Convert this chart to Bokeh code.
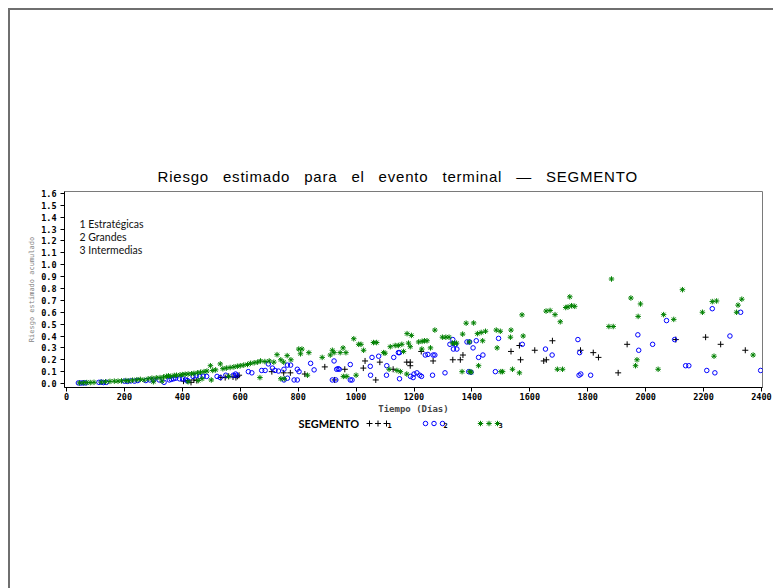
from bokeh.plotting import figure
from bokeh.models import Range1d, Label, FixedTicker, ColumnDataSource
from bokeh.layouts import column
from bokeh.core.properties import value
from bokeh.embed import file_html
from bokeh.resources import INLINE

# ---------------- data ----------------
titulo = "Riesgo estimado para el evento terminal \u2014 SEGMENTO"
eje_x = "Tiempo (D\u00edas)"
eje_y = "Riesgo estimado acumulado"
notas = ["1 Estrat\u00e9gicas", "2 Grandes", "3 Intermedias"]
leyenda_titulo = "SEGMENTO"
segmentos = ["1", "2", "3"]

x_ticks = [0, 200, 400, 600, 800, 1000, 1200, 1400, 1600, 1800, 2000, 2200, 2400]
x_tick_labels = ["0", "200", "400", "600", "800", "1000", "1200", "1400", "1600", "1800", "2000", "2200", "2400"]
y_ticks = [0.0, 0.1, 0.2, 0.3, 0.4, 0.5, 0.6, 0.7, 0.8, 0.9, 1.0, 1.1, 1.2, 1.3, 1.4, 1.5, 1.6]
y_tick_labels = ["0.0", "0.1", "0.2", "0.3", "0.4", "0.5", "0.6", "0.7", "0.8", "0.9", "1.0", "1.1", "1.2", "1.3", "1.4", "1.5", "1.6"]

# Segment 1 (Estrategicas)
seg1_dias = [404, 418, 430, 440, 450, 533, 548, 560, 575, 585, 590, 596, 709, 750, 773, 823, 892, 926,
             961, 1025, 1031, 1068, 1082, 1128, 1175, 1187, 1187, 1225, 1266, 1334, 1360, 1369, 1535,
             1564, 1568, 1617, 1648, 1657, 1678, 1775, 1819, 1837, 1905, 1936, 2104, 2207, 2259, 2344]
seg1_riesgo = [0.02, 0.025, 0.01, 0.03, 0.025, 0.05, 0.05, 0.06, 0.055, 0.05, 0.06, 0.07, 0.10, 0.09, 0.09,
               0.08, 0.14, 0.03, 0.12, 0.13, 0.19, 0.03, 0.18, 0.12, 0.18, 0.15, 0.18, 0.27, 0.19, 0.20,
               0.20, 0.24, 0.27, 0.32, 0.20, 0.28, 0.19, 0.20, 0.36, 0.28, 0.26, 0.22, 0.09, 0.33, 0.37,
               0.39, 0.33, 0.28]

# Segment 2 (Grandes)
seg2_dias = [41, 50, 58, 66, 112, 120, 128, 138, 200, 210, 222, 235, 246, 274, 288, 300, 320, 337, 355,
             362, 370, 377, 390, 401, 412, 418, 437, 448, 460, 472, 484, 520, 531, 550, 576, 584, 588,
             628, 640, 674, 686, 697, 711, 720, 732, 751, 763, 774, 751, 763, 786, 797, 797, 803, 843,
             855, 918, 924, 930, 933, 938, 942, 980, 980, 986, 1049, 1050, 1055, 1078, 1105, 1106, 1130,
             1146, 1150, 1150, 1197, 1188, 1200, 1210, 1220, 1226, 1239, 1248, 1264, 1266, 1272, 1307,
             1324, 1334, 1336, 1343, 1348, 1383, 1389, 1392, 1397, 1404, 1415, 1423, 1438, 1481, 1492,
             1574, 1654, 1677, 1766, 1772, 1770, 1776, 1810, 1973, 1976, 2024, 2072, 2100, 2138, 2149,
             2211, 2230, 2239, 2291, 2328, 2397]
seg2_riesgo = [0.005, 0.004, 0.006, 0.005, 0.01, 0.012, 0.008, 0.01, 0.02, 0.018, 0.022, 0.02, 0.025,
               0.025, 0.03, 0.028, 0.03, 0.01, 0.03, 0.035, 0.04, 0.045, 0.04, 0.04, 0.03, 0.025, 0.06,
               0.065, 0.06, 0.062, 0.06, 0.06, 0.05, 0.07, 0.07, 0.08, 0.07, 0.10, 0.09, 0.11, 0.11,
               0.165, 0.13, 0.11, 0.105, 0.12, 0.155, 0.155, 0.03, 0.045, 0.03, 0.03, 0.12, 0.10, 0.17,
               0.115, 0.03, 0.19, 0.03, 0.12, 0.125, 0.12, 0.16, 0.03, 0.03, 0.145, 0.07, 0.22, 0.23,
               0.07, 0.15, 0.22, 0.26, 0.26, 0.04, 0.05, 0.06, 0.08, 0.09, 0.07, 0.06, 0.24, 0.245, 0.07,
               0.24, 0.24, 0.09, 0.33, 0.37, 0.29, 0.33, 0.29, 0.35, 0.10, 0.35, 0.095, 0.30, 0.36, 0.22,
               0.24, 0.10, 0.38, 0.33, 0.29, 0.24, 0.37, 0.26, 0.07, 0.08, 0.07, 0.41, 0.28, 0.33, 0.53,
               0.37, 0.15, 0.15, 0.11, 0.63, 0.09, 0.40, 0.60, 0.11]

# Segment 3 (Intermedias)
seg3_dias = [45, 58, 70, 82, 95, 120, 135, 150, 165, 178, 190, 205, 215, 228, 243, 255, 268, 282, 295,
             310, 323, 335, 345, 352, 360, 372, 380, 392, 400, 410, 420, 432, 440, 452, 463, 475, 485,
             497, 505, 515, 531, 540, 552, 565, 578, 590, 600, 612, 625, 635, 648, 660, 670, 685, 700,
             716, 727, 740, 750, 762, 775, 300, 330, 420, 455, 468, 500, 560, 668, 740, 752, 832,
             802, 813, 808, 837, 883, 911, 918, 924, 945, 955, 965, 992, 1009, 1017, 1026, 1060, 1071,
             1095, 1100, 1118, 1135, 1146, 1158, 1164, 1176, 1191, 1181, 1187, 1216, 1228, 1236, 1245,
             1227, 1257, 1272, 1298, 1310, 1321, 1333, 1340, 1347, 1368, 1380, 1406, 1391, 1419, 1432,
             1447, 1437, 1423, 1393, 1397, 1366, 1484, 1498, 1487, 1535, 1533, 1577, 1573, 1500, 1506,
             1540, 1564, 1656, 1670, 1687, 1705, 1695, 1713, 1724, 1732, 1738, 1744, 1755, 1882, 1873,
             1888, 1949, 1982, 1974, 1970, 1965, 2043, 2062, 2097, 2127, 2196, 2230, 2245, 2236, 2314,
             2319, 2332, 2371, 1141, 1153, 1175, 1114, 956, 968, 1000]
seg3_riesgo = [0.005, 0.006, 0.008, 0.008, 0.01, 0.012, 0.015, 0.018, 0.02, 0.02, 0.022, 0.025, 0.022,
               0.028, 0.032, 0.035, 0.03, 0.04, 0.045, 0.048, 0.05, 0.055, 0.06, 0.065, 0.06, 0.068, 0.07,
               0.072, 0.075, 0.078, 0.08, 0.082, 0.085, 0.09, 0.095, 0.10, 0.105, 0.15, 0.11, 0.115,
               0.165, 0.125, 0.13, 0.135, 0.14, 0.145, 0.15, 0.155, 0.16, 0.17, 0.175, 0.18, 0.19, 0.185,
               0.19, 0.18, 0.243, 0.20, 0.18, 0.235, 0.20, 0.015, 0.02, 0.015, 0.025, 0.04, 0.03, 0.06,
               0.05, 0.04, 0.04, 0.07,
               0.29, 0.29, 0.25, 0.26, 0.22, 0.24, 0.28, 0.26, 0.26, 0.30, 0.26, 0.377, 0.33, 0.33, 0.28,
               0.345, 0.345, 0.26, 0.255, 0.31, 0.32, 0.32, 0.33, 0.27, 0.42, 0.405, 0.34, 0.31, 0.35,
               0.355, 0.36, 0.36, 0.29, 0.30, 0.45, 0.39, 0.39, 0.39, 0.34, 0.34, 0.34, 0.416, 0.508,
               0.51, 0.35, 0.42, 0.43, 0.44, 0.36, 0.15, 0.10, 0.095, 0.10, 0.45, 0.44, 0.30, 0.45, 0.39,
               0.40, 0.578, 0.10, 0.10, 0.12, 0.09, 0.61, 0.615, 0.58, 0.52, 0.12, 0.12, 0.64, 0.645,
               0.73, 0.655, 0.65, 0.88, 0.48, 0.48, 0.72, 0.67, 0.565, 0.20, 0.15, 0.12, 0.58, 0.54,
               0.79, 0.60, 0.69, 0.695, 0.23, 0.60, 0.66, 0.71, 0.24, 0.11, 0.10, 0.08, 0.12, 0.06,
               0.06, 0.07]

# ---------------- layout (page pixels) ----------------
FRAME_L, FRAME_R, FRAME_T, FRAME_B = 64, 762, 191, 388
PX_X0, PX_PER_DAY = 66.0, 695.0 / 2400.0
PX_Y0, PX_PER_UNIT = 384.0, 191.0 / 1.6
CANVAS_L, CANVAS_T = 10, 10
W = 763
TOP_SPLIT = 186      # page y where the main plot canvas starts
SPLIT = 416          # page y where the legend strip starts
PAGE_B = 588


def dx(px):
    return (px - PX_X0) / PX_PER_DAY


def dy(py):
    return (PX_Y0 - py) / PX_PER_UNIT


MARK = dict(cross=dict(marker="cross", size=6, line_color="black", line_width=1),
            circle=dict(marker="circle", size=4.5, line_color="#0000ff", fill_color=None, line_width=1),
            aster=dict(marker="asterisk", size=5.5, line_color="#008000", line_width=1))


def strip(y0, y1):
    f = figure(width=W, height=y1 - y0, output_backend="svg", toolbar_location=None,
               x_range=Range1d(FRAME_L, FRAME_R), y_range=Range1d(y1, y0),
               x_axis_location=None, y_axis_location=None, min_border=0, title=None)
    f.xgrid.visible = False
    f.ygrid.visible = False
    f.outline_line_color = None
    f.background_fill_color = "white"
    f.border_fill_color = "white"
    return f


# ---------------- title strip ----------------
top = strip(CANVAS_T, TOP_SPLIT)
top.text(x=[157], y=[176], text=[titulo], text_font=value("Liberation Sans"), text_font_size="15px",
         text_align="left", text_baseline="middle", text_color="black")
top.styles = {"letter-spacing": "0.8px", "word-spacing": "9px"}

# ---------------- main plot ----------------
p = figure(width=W, height=SPLIT - TOP_SPLIT, output_backend="svg", toolbar_location=None, title=None,
           x_range=Range1d(dx(FRAME_L), dx(FRAME_R)), y_range=Range1d(dy(FRAME_B), dy(FRAME_T)),
           min_border_left=FRAME_L - CANVAS_L, min_border_right=CANVAS_L + W - FRAME_R,
           min_border_top=FRAME_T - TOP_SPLIT, min_border_bottom=SPLIT - FRAME_B)
p.xgrid.visible = False
p.ygrid.visible = False
p.outline_line_color = "#7a7a7a"
p.outline_line_width = 1
p.background_fill_color = "white"
p.border_fill_color = "white"

for ax in (p.xaxis[0], p.yaxis[0]):
    ax.axis_line_color = "black"
    ax.major_tick_line_color = "black"
    ax.major_tick_out = 4
    ax.major_tick_in = 0
    ax.minor_tick_line_color = None
    ax.major_label_text_font = "DejaVu Sans Mono"
    ax.major_label_text_font_style = "bold"
    ax.major_label_text_font_size = "8.5px"
    ax.major_label_text_color = "black"

p.xaxis.ticker = FixedTicker(ticks=x_ticks)
p.xaxis.major_label_overrides = {t: l for t, l in zip(x_ticks, x_tick_labels)}
p.yaxis.ticker = FixedTicker(ticks=y_ticks)
p.yaxis.major_label_overrides = {t: l for t, l in zip(y_ticks, y_tick_labels)}
p.xaxis.major_label_standoff = 1
p.yaxis.major_label_standoff = 4

p.xaxis.axis_label = eje_x
p.xaxis.axis_label_text_font = "DejaVu Sans Mono"
p.xaxis.axis_label_text_font_style = "bold"
p.xaxis.axis_label_text_font_size = "9px"
p.xaxis.axis_label_standoff = 1

p.yaxis.axis_label = eje_y
p.yaxis.axis_label_text_font = "DejaVu Sans Mono"
p.yaxis.axis_label_text_font_style = "normal"
p.yaxis.axis_label_text_font_size = "7px"
p.yaxis.axis_label_text_color = "#7f7f7f"
p.yaxis.axis_label_standoff = 2

src1 = ColumnDataSource(dict(x=seg1_dias, y=seg1_riesgo))
src2 = ColumnDataSource(dict(x=seg2_dias, y=seg2_riesgo))
src3 = ColumnDataSource(dict(x=seg3_dias, y=seg3_riesgo))

p.scatter("x", "y", source=src1, **MARK["cross"])
p.scatter("x", "y", source=src2, **MARK["circle"])
p.scatter("x", "y", source=src3, **MARK["aster"])

for i, t in enumerate(notas):
    p.add_layout(Label(x=dx(79), y=dy(224 + 13 * i), text=t, text_font="Lato", text_font_size="10.5px",
                       text_align="left", text_baseline="middle", text_color="#111111"))

# ---------------- legend strip ----------------
leg = strip(SPLIT, PAGE_B)
LEG_Y = 423
leg.text(x=[298], y=[LEG_Y], text=[leyenda_titulo], text_font=value("Lato"), text_font_style="bold",
         text_font_size="11px", text_align="left", text_baseline="middle", text_color="black")
leg_start = [369, 425, 480]
leg_kind = ["cross", "circle", "aster"]
for k in range(3):
    xs = [leg_start[k] + 8.5 * j for j in range(3)]
    leg.scatter(x=xs, y=[LEG_Y] * 3, **MARK[leg_kind[k]])
    leg.text(x=[leg_start[k] + 20], y=[LEG_Y + 1], text=[segmentos[k]], text_font=value("DejaVu Sans Mono"),
             text_font_style="bold", text_font_size="7px", text_align="center", text_baseline="middle",
             text_color="black")

lay = column(top, p, leg, spacing=0)
lay.styles = {"margin-left": "8px", "margin-top": "8px",
              "border-left": "2px solid #6f6f6f", "border-top": "2px solid #6f6f6f"}

open("out.html", "w").write(file_html(lay, INLINE))
